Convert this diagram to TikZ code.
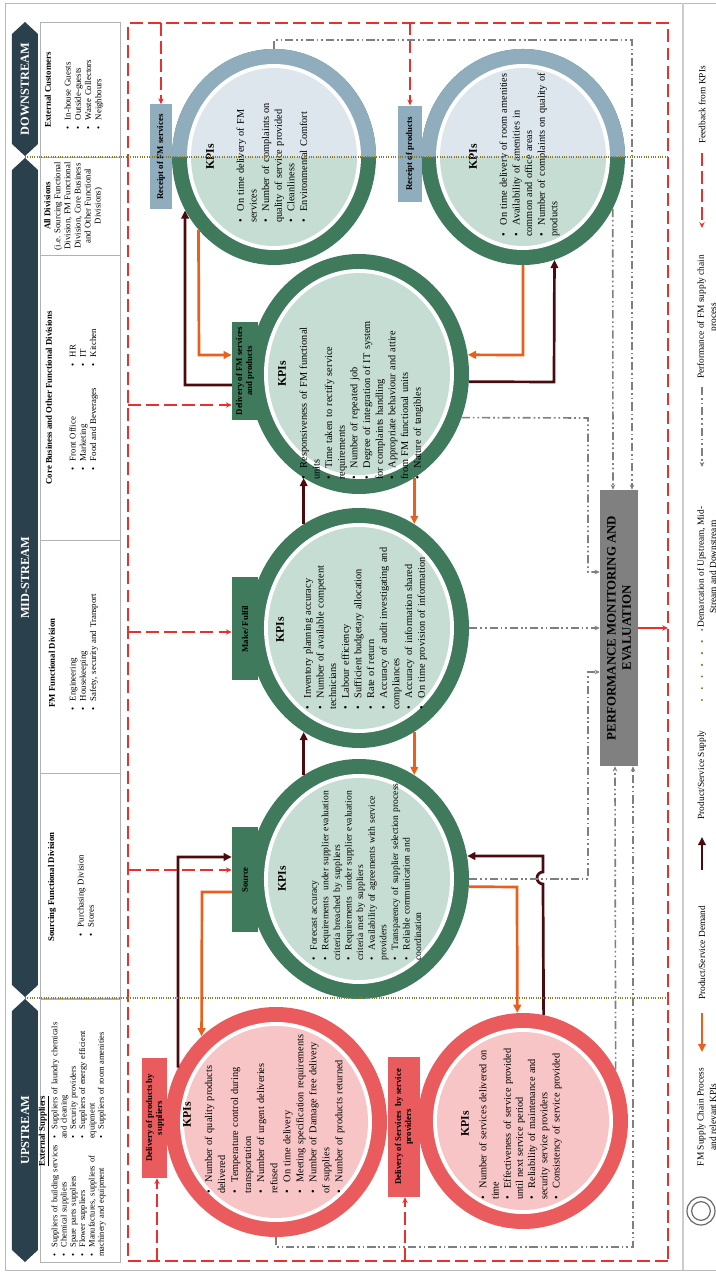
\documentclass[tikz,border=0pt]{standalone}
\usepackage{fontspec}
\setmainfont{Liberation Serif}
\usepackage{xcolor}
\usetikzlibrary{arrows.meta, positioning, shapes.geometric, calc}

\definecolor{navyband}{HTML}{2B404D}
\definecolor{ringgreen}{HTML}{3F7A5C}
\definecolor{coregreen}{HTML}{C5DDD2}
\definecolor{ringblue}{HTML}{8FADBD}
\definecolor{coreblue}{HTML}{DCE6EC}
\definecolor{ringred}{HTML}{E95B5C}
\definecolor{corered}{HTML}{F7C5C6}
\definecolor{supplycol}{HTML}{4A0B0E}
\definecolor{demandcol}{HTML}{EA5F1B}
\definecolor{perfcol}{HTML}{7F7F7F}
\definecolor{fbcol}{HTML}{E8302D}
\definecolor{demarcol}{HTML}{8A7A2B}
\definecolor{pmfill}{HTML}{808080}

\newcommand{\kpiitem}[1]{\par\noindent\hangindent=1.1em\hangafter=1%
  \makebox[1.1em][l]{\textbullet}#1}

\begin{document}
\begin{tikzpicture}[
  x=0.03cm, y=0.03cm, rotate=90, transform shape,
  band/.style={fill=navyband},
  bandlbl/.style={text=white, inner sep=0pt, font=\bfseries\fontsize{10.5}{12}\selectfont},
  divbox/.style={rectangle, draw=gray!60, line width=0.6pt, minimum height=2.4cm, inner sep=0pt},
  divtitle/.style={inner sep=0pt, font=\bfseries\fontsize{7.5}{9}\selectfont},
  divtext/.style={anchor=north west, align=left, text width=3.8cm, inner sep=0pt,
                  font=\fontsize{7.5}{8.8}\selectfont},
  oval/.style={ellipse, inner sep=0pt},
  ringmid/.style={oval, minimum width=7.2cm, minimum height=6.6cm},
  gapmid/.style={oval, fill=white, minimum width=6.3cm, minimum height=5.7cm},
  coremid/.style={oval, minimum width=6.06cm, minimum height=5.46cm},
  ringdown/.style={oval, minimum width=6.48cm, minimum height=6.12cm},
  gapdown/.style={oval, fill=white, minimum width=5.58cm, minimum height=5.22cm},
  coredown/.style={oval, minimum width=5.34cm, minimum height=4.98cm},
  kpihead/.style={inner sep=0pt, font=\bfseries\fontsize{10}{12}\selectfont},
  kpilist/.style={anchor=north west, align=left, text width=5.8cm, inner sep=0pt,
                  font=\fontsize{8.8}{10.8}\selectfont},
  procbox/.style={rectangle, inner sep=1pt, align=center, text=black,
                  font=\bfseries\fontsize{7.5}{8.5}\selectfont},
  pmboxst/.style={rectangle, fill=pmfill, minimum width=8.28cm, minimum height=1.14cm,
                  align=center, inner sep=2pt, font=\bfseries\fontsize{11}{13}\selectfont},
  supply/.style={draw=supplycol, line width=2.3pt, -{Triangle[length=7pt,width=6.5pt]}},
  demand/.style={draw=demandcol, line width=2.3pt, -{Triangle[length=7pt,width=6.5pt]}},
  perf/.style={draw=perfcol, line width=1.4pt,
               dash pattern=on 7pt off 2.5pt on 1.4pt off 2.5pt on 1.4pt off 2.5pt,
               -{Stealth[length=4.5pt,width=4pt]}},
  feedback/.style={draw=fbcol, line width=1.4pt, dash pattern=on 11pt off 4.5pt},
  fbarr/.style={feedback, -{Stealth[length=5pt,width=4.5pt]}},
  demarc/.style={draw=demarcol, line width=1.3pt, dash pattern=on 0.8pt off 1.2pt},
  lgdots/.style={draw=demarcol, line width=2pt, line cap=round, dash pattern=on 0pt off 10pt},
  lgtext/.style={align=center, inner sep=0pt, font=\fontsize{8}{10.5}\selectfont}
]
%% page frame (landscape layout, turned a quarter)
\useasboundingbox (0,0) rectangle (1275,715);
\draw[gray!55, line width=0.8pt] (5,-5) rectangle (1272,710);
\draw[gray!40, line width=1.6pt] (5,32) -- (1272,32);

%% stream band
\fill[band] (13,690) -- (25,703) -- (264,703) -- (276,690) -- (264,677) -- (25,677) -- cycle;
\fill[band] (278,690) -- (290,703) -- (1105,703) -- (1117,690) -- (1105,677) -- (290,677) -- cycle;
\fill[band] (1119,690) -- (1131,703) -- (1241,703) -- (1253,690) -- (1241,677) -- (1131,677) -- cycle;
\node[bandlbl] (up_l)   at (145,690)  {UPSTREAM};
\node[bandlbl] (mid_l)  at (697,690)  {MID-STREAM};
\node[bandlbl] (down_l) at (1186,690) {DOWNSTREAM};

%% division boxes
\node[divbox, minimum width=7.89cm] (esup) at (144.5,635) {};
\node[divbox, minimum width=6.75cm] (sfd)  at (389.5,635) {};
\node[divbox, minimum width=6.99cm] (fmfd) at (618.5,635) {};
\node[divbox, minimum width=8.55cm] (cbd)  at (877.5,635) {};
\node[divbox, minimum width=2.94cm] (alld) at (1069,635)  {};
\node[divbox, minimum width=4.05cm] (ecus) at (1185.5,635) {};

\node[divtitle] (esup_t) at (144,671) {\underline{External Suppliers}};
\node[divtext, font=\fontsize{7.2}{7.9}\selectfont] (esup_a) at (18,667)
  {\kpiitem{Suppliers of building services}\kpiitem{Chemical suppliers}%
   \kpiitem{Spare parts suppliers}\kpiitem{Flower suppliers}%
   \kpiitem{Manufactures, suppliers of\\machinery and equipment}};
\node[divtext, font=\fontsize{7.2}{7.9}\selectfont] (esup_b) at (136,667)
  {\kpiitem{Suppliers of laundry chemicals\\and cleaning}\kpiitem{Security providers}%
   \kpiitem{Suppliers of energy efficient\\equipment}\kpiitem{Suppliers of room amenities}};
\node[divtitle] (sfd_t) at (388,663) {Sourcing Functional Division};
\node[divtext] (sfd_a) at (338,642) {\kpiitem{Purchasing Division}\kpiitem{Stores}};
\node[divtitle] (fmfd_t) at (612,663) {FM Functional Division};
\node[divtext] (fmfd_a) at (564,650)
  {\kpiitem{Engineering}\kpiitem{Housekeeping}\kpiitem{Safety, security and Transport}};
\node[divtitle] (cbd_t) at (877,666) {Core Business and Other Functional Divisions};
\node[divtext] (cbd_a) at (804,650) {\kpiitem{Front Office}\kpiitem{Marketing}\kpiitem{Food and Beverages}};
\node[divtext] (cbd_b) at (908,650) {\kpiitem{HR}\kpiitem{IT}\kpiitem{Kitchen}};
\node[divtitle, anchor=north, align=center, font=\fontsize{7.5}{8.6}\selectfont] (alld_t) at (1069,671)
  {\textbf{All Divisions}\\(i.e. Sourcing Functional\\Division, FM Functional\\Division, Core Business\\and Other Functional\\Divisions)};
\node[divtitle] (ecus_t) at (1185,667) {External Customers};
\node[divtext] (ecus_a) at (1145,655)
  {\kpiitem{In-house Guests}\kpiitem{Outside-guests}\kpiitem{Waste Collectors}\kpiitem{Neighbours}};

%% process circles
\foreach \nm/\cx in {src/396, mak/647, dlv/901} {
  \node[ringmid, fill=ringgreen] (\nm) at (\cx,356) {};
  \node[gapmid] at (\nm) {};
  \node[coremid, fill=coregreen] at (\nm) {};
}
\node[oval, fill=ringred, minimum width=6.9cm, minimum height=6.66cm] (sup) at (153,439) {};
\node[oval, fill=white, minimum width=6.0cm, minimum height=5.76cm] at (sup) {};
\node[oval, fill=corered, minimum width=5.76cm, minimum height=5.52cm] at (sup) {};
\node[oval, fill=ringred, minimum width=6.48cm, minimum height=6.3cm] (svc) at (154,192) {};
\node[oval, fill=white, minimum width=5.58cm, minimum height=5.4cm] at (svc) {};
\node[oval, fill=corered, minimum width=5.34cm, minimum height=5.16cm] at (svc) {};
\foreach \nm/\cy in {fms/441, rcp/192} {
  \node[ringdown, fill=ringgreen] (\nm) at (1118,\cy) {};
  \node[gapdown] at (\nm) {};
  \node[coredown, fill=coregreen] at (\nm) {};
}
\begin{scope}
  \clip (1118,0) rectangle (1275,715);
  \foreach \cy in {441,192} {
    \node[ringdown, fill=ringblue] at (1118,\cy) {};
    \node[gapdown] at (1118,\cy) {};
    \node[coredown, fill=coreblue] at (1118,\cy) {};
  }
\end{scope}

%% process labels
\node[procbox, fill=ringblue, minimum width=3.15cm, minimum height=0.66cm] (fmsbox) at (1118,554) {Receipt of FM services};
\node[procbox, fill=ringblue, minimum width=2.9cm, minimum height=0.72cm] (rcpbox) at (1121,305) {Receipt of products};
\node[procbox, fill=ringgreen, minimum width=2.94cm, minimum height=0.78cm] (dlvbox) at (904,470) {Delivery of FM services\\and products};
\node[procbox, fill=ringgreen, minimum width=3.09cm, minimum height=0.78cm] (makbox) at (646,470) {Make/ Fulfil};
\node[procbox, fill=ringgreen, minimum width=3.15cm, minimum height=0.78cm] (srcbox) at (395,470) {Source};
\node[procbox, fill=ringred, minimum width=3.6cm, minimum height=0.75cm] (supbox) at (157,560) {Delivery of products by\\suppliers};
\node[procbox, fill=ringred, minimum width=4.2cm, minimum height=0.96cm] (svcbox) at (148,311) {Delivery of Services~ by service\\providers};

%% supply / demand flows
\draw[supply] (sup.61) -- (418,537) -- ($(srcbox.north)+(23,0)$);
\draw[demand] ($(srcbox.north)+(-12,0)$) -- (383,513) -- (sup.41);
\draw[supply] (svc.349) -- (391,172) arc[start angle=180, end angle=0, radius=0.18cm]
  -- (419,172) -- (src.282);
\draw[demand] (src.266) -- (388,198) -- (svc.3);
\draw[supply] (src.28) -- (mak.152);
\draw[demand] (mak.208) -- (src.332);
\draw[supply] (mak.28) -- (dlv.152);
\draw[demand] (dlv.208) -- (mak.332);
\draw[supply] ($(dlvbox.north)+(-14,0)$) -- (890,530) -- (fms.121);
\draw[demand] (fms.134) -- (920,516) -- ($(dlvbox.north)+(16,0)$);
\draw[demand] (rcp.west) -- (920,192) -- (dlv.280);
\draw[supply] (dlv.266) -- (893,161) -- (rcp.197);

%% performance lines to monitoring box
\node[pmboxst] (pmbox) at (647,96) {PERFORMANCE MONITORING AND\\EVALUATION};
\draw[perf] (fms.east) -- ++(9,0) -- ++(0,-358) -- ($(pmbox.east)+(0,-13)$);
\draw[perf] (rcp.240) -- ($(pmbox.east)+(0,6)$);
\draw[perf] (dlv.247) -- (857,127) -- (703,127) -- ($(pmbox.north)+(56,0)$);
\draw[perf] (mak.south) -- (pmbox.north);
\draw[perf] (src.south) -- (396,127) -- (603,127) -- ($(pmbox.north)+(-44,0)$);
\draw[perf] (sup.west) -- ++(-10,0) -- ++(0,-357) -- ($(pmbox.west)+(0,-14)$);
\draw[perf] (svc.299.5) -- ($(pmbox.west)+(0,4)$);

%% KPI texts
\node[kpihead] (fms_k) at (1118,505) {KPIs};
\node[kpilist] (fms_l) at (1052,484)
  {\kpiitem{On time delivery of FM\\services}\kpiitem{Number of complaints on\\quality of service provided}%
   \kpiitem{Cleanliness}\kpiitem{Environmental Comfort}};
\node[kpihead] (rcp_k) at (1118,242) {KPIs};
\node[kpilist] (rcp_l) at (1038,221)
  {\kpiitem{On time delivery of room amenities}\kpiitem{Availability of amenities in\\common and office areas}%
   \kpiitem{Number of complaints on quality of\\products}};
\node[kpihead] (dlv_k) at (901,433) {KPIs};
\node[kpilist] (dlv_l) at (795,421)
  {\kpiitem{Responsiveness of FM functional\\units}\kpiitem{Time taken to rectify service\\requirements}%
   \kpiitem{Number of repeated job}\kpiitem{Degree of integration of IT system\\for complaints handling}%
   \kpiitem{Appropriate behaviour and attire\\from FM functional units}\kpiitem{Nature of tangibles}};
\node[kpihead] (mak_k) at (645,435) {KPIs};
\node[kpilist] (mak_l) at (565,417)
  {\kpiitem{Inventory planning accuracy}\kpiitem{Number of available competent\\technicians}%
   \kpiitem{Labour efficiency}\kpiitem{Sufficient budgetary allocation}\kpiitem{Rate of return}%
   \kpiitem{Accuracy of audit investigating and\\compliances}\kpiitem{Accuracy of information shared}%
   \kpiitem{On time provision of information}};
\node[kpihead] (src_k) at (396,433) {KPIs};
\node[kpilist, font=\fontsize{8.2}{9.9}\selectfont] (src_l) at (314,410)
  {\kpiitem{Forecast accuracy}\kpiitem{Requirements~ under supplier evaluation\\criteria breached by suppliers}%
   \kpiitem{Requirements~ under supplier evaluation\\criteria met by suppliers}%
   \kpiitem{Availability of agreements with service\\providers}%
   \kpiitem{Transparency of supplier selection process}\kpiitem{Reliable communication and\\coordination}};
\node[kpihead] (sup_k) at (160,528) {KPIs};
\node[kpilist, font=\fontsize{8.8}{11.1}\selectfont] (sup_l) at (81,516)
  {\kpiitem{Number of quality products\\delivered}\kpiitem{Temperature control during\\transportation}%
   \kpiitem{Number of urgent deliveries\\refused}\kpiitem{On time delivery}%
   \kpiitem{Meeting specification requirements}\kpiitem{Number of Damage free delivery\\of supplies}%
   \kpiitem{Number of products returned}};
\node[kpihead] (svc_k) at (151,250) {KPIs};
\node[kpilist, font=\fontsize{8.8}{10.4}\selectfont] (svc_l) at (75,241)
  {\kpiitem{Number of services delivered on\\time}\kpiitem{Effectiveness of service provided\\until next service period}%
   \kpiitem{Reliability of maintenance and\\security service providers}\kpiitem{Consistency of service provided}};

%% feedback loop
\coordinate (fb_sw) at (14,47);
\coordinate (fb_ne) at (1252,587);
\coordinate (fb_pm) at (647,47);
\draw[feedback] (fb_sw) rectangle (fb_ne);
\draw[fbarr] ($(fmsbox.east)+(81.5,0)$) -- (fmsbox.east);
\draw[fbarr] ($(rcpbox.east)+(83,0)$) -- (rcpbox.east);
\draw[fbarr] ($(dlvbox.north)+(-34,104)$) -- ($(dlvbox.north)+(-34,0)$);
\draw[fbarr] ($(makbox.north)+(-3,104)$) -- ($(makbox.north)+(-3,0)$);
\draw[fbarr] ($(srcbox.north)+(10,104)$) -- ($(srcbox.north)+(10,0)$);
\draw[fbarr] ($(supbox.west)+(-83,-2)$) -- ($(supbox.west)+(0,-2)$);
\draw[fbarr] ($(svcbox.west)+(-64,-1)$) -- ($(svcbox.west)+(0,-1)$);
\draw[fbcol, line width=1.4pt, -{Stealth[length=5pt,width=4.5pt]}] (pmbox.south) -- (fb_pm);

%% demarcation of streams
\draw[demarc] (277,690) -- (277,47);
\draw[demarc] (1118,690) -- (1118,47);

%% legend
\node[circle, draw=gray!80!black, line width=1pt, minimum size=0.84cm, inner sep=0pt] (lg_ring) at (64,14) {};
\node[circle, draw=gray!80!black, line width=1pt, minimum size=0.56cm, inner sep=0pt] (lg_core) at (lg_ring) {};
\node[lgtext, anchor=north] (lg_t1) at (158,18) {FM Supply Chain Process\\and relevant KPIs};
\coordinate (lg_o1) at (262,13); \coordinate (lg_o2) at (223,13);
\draw[demand] (lg_o1) -- (lg_o2);
\node[lgtext] (lg_t2) at (322,13) {Product/Service Demand};
\coordinate (lg_s1) at (405,13); \coordinate (lg_s2) at (438,13);
\draw[supply] (lg_s1) -- (lg_s2);
\node[lgtext] (lg_t3) at (500,13) {Product/Service Supply};
\coordinate (lg_m1) at (575,13); \coordinate (lg_m2) at (647,13);
\draw[lgdots] (lg_m1) -- (lg_m2);
\node[lgtext, anchor=north] (lg_t4) at (708,18) {Demarcation of Upstream, Mid-\\Stream and Downstream};
\coordinate (lg_p1) at (888,13); \coordinate (lg_p2) at (808,13);
\draw[perf] (lg_p1) -- (lg_p2);
\node[lgtext, anchor=north] (lg_t5) at (958,18) {Performance of FM supply chain\\process};
\coordinate (lg_f1) at (1122,13); \coordinate (lg_f2) at (1047,13);
\draw[fbarr] (lg_f1) -- (lg_f2);
\node[lgtext] (lg_t6) at (1170,13) {Feedback from KPIs};
\end{tikzpicture}
\end{document}
